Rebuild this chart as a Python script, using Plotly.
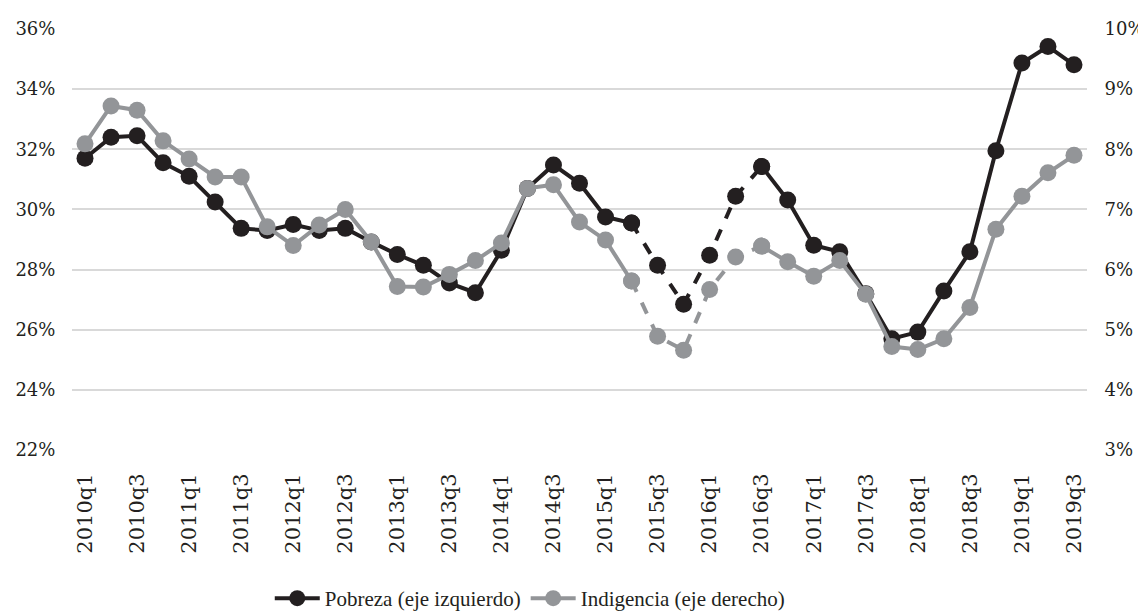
import plotly.graph_objects as go

quarters = [f"{y}q{q}" for y in range(2010, 2020) for q in range(1, 5)][:39]

pobreza = [31.7, 32.4, 32.45, 31.55, 31.1, 30.25, 29.37, 29.3, 29.5, 29.3,
           29.37, 28.92, 28.5, 28.14, 27.55, 27.23, 28.64, 30.7, 31.48, 30.87,
           29.75, 29.55, 28.14, 26.85, 28.48, 30.44, 31.43, 30.31, 28.81, 28.59,
           27.2, 25.7, 25.92, 27.29, 28.59, 31.95, 34.87, 35.42, 34.81]

indigencia = [8.09, 8.72, 8.65, 8.14, 7.84, 7.54, 7.54, 6.71, 6.40, 6.74,
              7.0, 6.46, 5.72, 5.71, 5.92, 6.15, 6.44, 7.35, 7.41, 6.79,
              6.49, 5.81, 4.89, 4.66, 5.67, 6.21, 6.39, 6.13, 5.89, 6.15,
              5.59, 4.72, 4.67, 4.85, 5.37, 6.67, 7.22, 7.61, 7.90]

tick_labels = quarters[::2]
left_ticks = [22, 24, 26, 28, 30, 32, 34, 36]
right_ticks = [3, 4, 5, 6, 7, 8, 9, 10]

dash_from, dash_to = "2015q2", "2016q3"
i0, i1 = quarters.index(dash_from), quarters.index(dash_to)

BLACK = "#231f20"
GRAY = "#939598"
TICK_FONT = "DejaVu Serif"
LEGEND_FONT = "Liberation Serif"

def solid_part(vals):
    return [v if (i <= i0 or i >= i1) else None for i, v in enumerate(vals)]

def dash_part(vals):
    return [v if i0 <= i <= i1 else None for i, v in enumerate(vals)]

fig = go.Figure()
for name, vals, color, axis in [
    ("Pobreza (eje izquierdo)", pobreza, BLACK, "y"),
    ("Indigencia (eje derecho)", indigencia, GRAY, "y2"),
]:
    fig.add_trace(go.Scatter(
        x=quarters, y=solid_part(vals), name=name, yaxis=axis,
        mode="lines+markers", connectgaps=False,
        line=dict(color=color, width=4),
        marker=dict(color=color, size=17),
    ))
    fig.add_trace(go.Scatter(
        x=quarters, y=dash_part(vals), name=name, yaxis=axis,
        mode="lines+markers", connectgaps=False, showlegend=False,
        line=dict(color=color, width=4, dash="dash"),
        marker=dict(color=color, size=17),
    ))

# page body has an 8px margin, so the figure is sized/offset to compensate
fig.update_layout(
    width=1138, height=604,
    margin=dict(l=64, r=59, t=21, b=162, autoexpand=False),
    paper_bgcolor="white", plot_bgcolor="white",
    font=dict(family=TICK_FONT, size=18, color="#231f20"),
    showlegend=True,
    legend=dict(orientation="h", x=0.451, xanchor="center", y=-0.304,
                yanchor="top", font=dict(family=LEGEND_FONT, size=21),
                itemwidth=45, traceorder="normal"),
    xaxis=dict(type="category", categoryorder="array", categoryarray=quarters,
               tickmode="array", tickvals=tick_labels, ticktext=tick_labels,
               tickangle=-90, showgrid=False, zeroline=False, showline=False,
               ticks="outside", ticklen=14, tickcolor="rgba(0,0,0,0)",
               tickfont=dict(family=TICK_FONT, size=21), automargin=False,
               range=[-0.5, len(quarters) - 0.5]),
    yaxis=dict(range=[22, 36], tickmode="array", tickvals=left_ticks,
               ticktext=[f"{v}%" for v in left_ticks], automargin=False,
               showgrid=True, gridcolor="#d9d9d9", gridwidth=2,
               zeroline=False, showline=False,
               ticks="outside", ticklen=12, tickcolor="rgba(0,0,0,0)"),
    yaxis2=dict(range=[3, 10], tickmode="array", tickvals=right_ticks,
                ticktext=[f"{v}%" for v in right_ticks], automargin=False,
                overlaying="y", side="right", showgrid=False,
                zeroline=False, showline=False,
                ticks="outside", ticklen=13, tickcolor="rgba(0,0,0,0)"),
)

fig.write_html("out.html")
